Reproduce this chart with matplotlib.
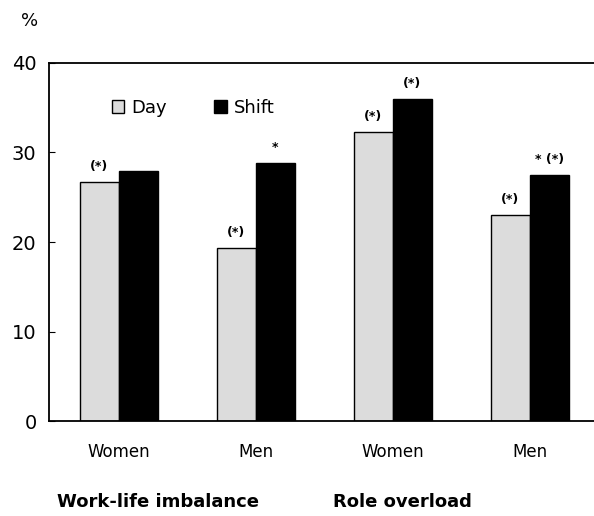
import matplotlib
matplotlib.use("Agg")
import matplotlib.pyplot as plt
import numpy as np

GROUPS = ["Women", "Men", "Women", "Men"]
SECTIONS = ["Work-life imbalance", "Role overload"]
DAY = [26.7, 19.3, 32.3, 23.0]
SHIFT = [27.9, 28.8, 36.0, 27.5]
DAY_MARKS = ["(*)", "(*)", "(*)", "(*)"]
SHIFT_MARKS = ["", "*", "(*)", "* (*)"]


def main():
    plt.rcParams["font.family"] = ["DejaVu Sans"]
    fig = plt.figure(figsize=(5.94, 5.16), dpi=100)
    ax = fig.add_axes([0.0825, 0.184, 0.9175, 0.694])

    x = np.arange(len(GROUPS))
    w = 0.285
    day_bars = ax.bar(x - w / 2, DAY, w, color="#dcdcdc", edgecolor="black",
                      linewidth=1.0, label="Day")
    shift_bars = ax.bar(x + w / 2, SHIFT, w, color="black", edgecolor="black",
                        linewidth=1.0, label="Shift")

    for bars, marks in ((day_bars, DAY_MARKS), (shift_bars, SHIFT_MARKS)):
        for b, m in zip(bars, marks):
            if m:
                ax.text(b.get_x() + b.get_width() / 2, b.get_height() + 1.0, m,
                        ha="center", va="bottom", fontsize=9, fontweight="bold")

    ax.set_xlim(-0.51, 3.47)
    ax.set_ylim(0, 40)
    ax.set_yticks([0, 10, 20, 30, 40])
    ax.tick_params(axis="y", direction="in", length=4, labelsize=14, pad=9)
    ax.set_xticks(x)
    ax.set_xticklabels(GROUPS, fontsize=12)
    ax.tick_params(axis="x", length=0, pad=16)
    ax.spines["right"].set_visible(False)
    for s in ("top", "left", "bottom"):
        ax.spines[s].set_linewidth(1.3)

    ax.legend(loc="upper left", bbox_to_anchor=(0.085, 0.946), ncol=2, frameon=False,
              fontsize=13, handlelength=0.7, handleheight=0.7, columnspacing=2.6,
              handletextpad=0.4)

    fig.text(0.035, 0.96, "%", fontsize=13, ha="left", va="center")
    fig.text(0.266, 0.027, SECTIONS[0], fontsize=13, fontweight="bold",
             ha="center", va="center")
    fig.text(0.678, 0.027, SECTIONS[1], fontsize=13, fontweight="bold",
             ha="center", va="center")

    fig.savefig("out.png", dpi=100)
    plt.close(fig)


if __name__ == "__main__":
    main()
